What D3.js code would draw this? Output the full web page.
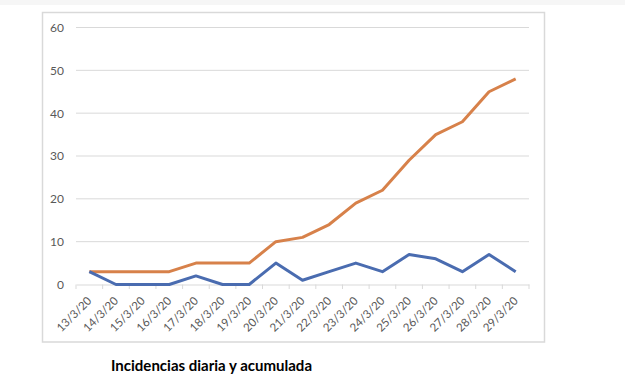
<!DOCTYPE html>
<html><head><meta charset="utf-8">
<script src="https://cdn.jsdelivr.net/npm/d3@7"></script>
<style>html,body{margin:0;padding:0;background:#fff;}svg{display:block;}</style>
</head><body>
<svg id="c" width="625" height="378"></svg>
<script>
const categories = ["13/3/20","14/3/20","15/3/20","16/3/20","17/3/20","18/3/20","19/3/20","20/3/20","21/3/20","22/3/20","23/3/20","24/3/20","25/3/20","26/3/20","27/3/20","28/3/20","29/3/20"];
const daily = [3,0,0,0,2,0,0,5,1,3,5,3,7,6,3,7,3];
const cumulative = [3,3,3,3,5,5,5,10,11,14,19,22,29,35,38,45,48];
const yTicks = [0,10,20,30,40,50,60];
const title = "Incidencias diaria y acumulada";

const svg = d3.select("#c");
svg.append("rect").attr("x",0).attr("y",0).attr("width",625).attr("height",5).attr("fill","#f6f6f6");
svg.append("rect").attr("x",42.5).attr("y",12.5).attr("width",502).attr("height",329.5)
  .attr("fill","#fff").attr("stroke","#d9d9d9").attr("stroke-width",1.5);

const x = d3.scaleBand().domain(categories).range([76,529]);
const y = d3.scaleLinear().domain([0,60]).range([284.5,27.5]);

svg.append("g").selectAll("line").data(yTicks.filter(d=>d>0)).join("line")
  .attr("x1",76).attr("x2",529).attr("y1",d=>y(d)).attr("y2",d=>y(d))
  .attr("stroke","#d9d9d9").attr("stroke-width",1);

const yAxis = svg.append("g").attr("transform","translate(76,0)")
  .call(d3.axisLeft(y).tickValues(yTicks).tickSize(0).tickPadding(12));
yAxis.select(".domain").remove();
yAxis.selectAll("text").attr("font-family","Lato, sans-serif").attr("font-size",12).attr("fill","#595959");

const xAxis = svg.append("g").attr("transform","translate(0,284.5)")
  .call(d3.axisBottom(x).tickSize(0));
xAxis.select(".domain").attr("stroke","#d9d9d9").attr("stroke-width",1);
xAxis.selectAll(".tick line").remove();
const bounds = categories.map(c=>x(c)).concat([x.range()[1]]);
svg.append("g").selectAll("line").data(bounds).join("line")
  .attr("x1",d=>d).attr("x2",d=>d).attr("y1",284.5).attr("y2",289)
  .attr("stroke","#d9d9d9").attr("stroke-width",1);
xAxis.selectAll("text")
  .attr("font-family","Lato, sans-serif").attr("font-size",11.5).attr("fill","#595959")
  .attr("text-anchor","end").attr("dy",null).attr("y",0)
  .attr("transform","translate(3,17) rotate(-45)");

const line = d3.line().x((d,i)=>x(categories[i])+x.bandwidth()/2).y(d=>y(d));
svg.append("path").datum(cumulative).attr("d",line).attr("fill","none")
  .attr("stroke","#d7814a").attr("stroke-width",3).attr("stroke-linejoin","round");
svg.append("path").datum(daily).attr("d",line).attr("fill","none")
  .attr("stroke","#4a6cb0").attr("stroke-width",3).attr("stroke-linejoin","round");

svg.append("text").attr("x",111).attr("y",371).text(title)
  .attr("font-family","Lato, sans-serif").attr("font-weight","bold").attr("font-size",15).attr("fill","#000")
  .attr("textLength",201).attr("lengthAdjust","spacingAndGlyphs");
</script>
</body></html>
